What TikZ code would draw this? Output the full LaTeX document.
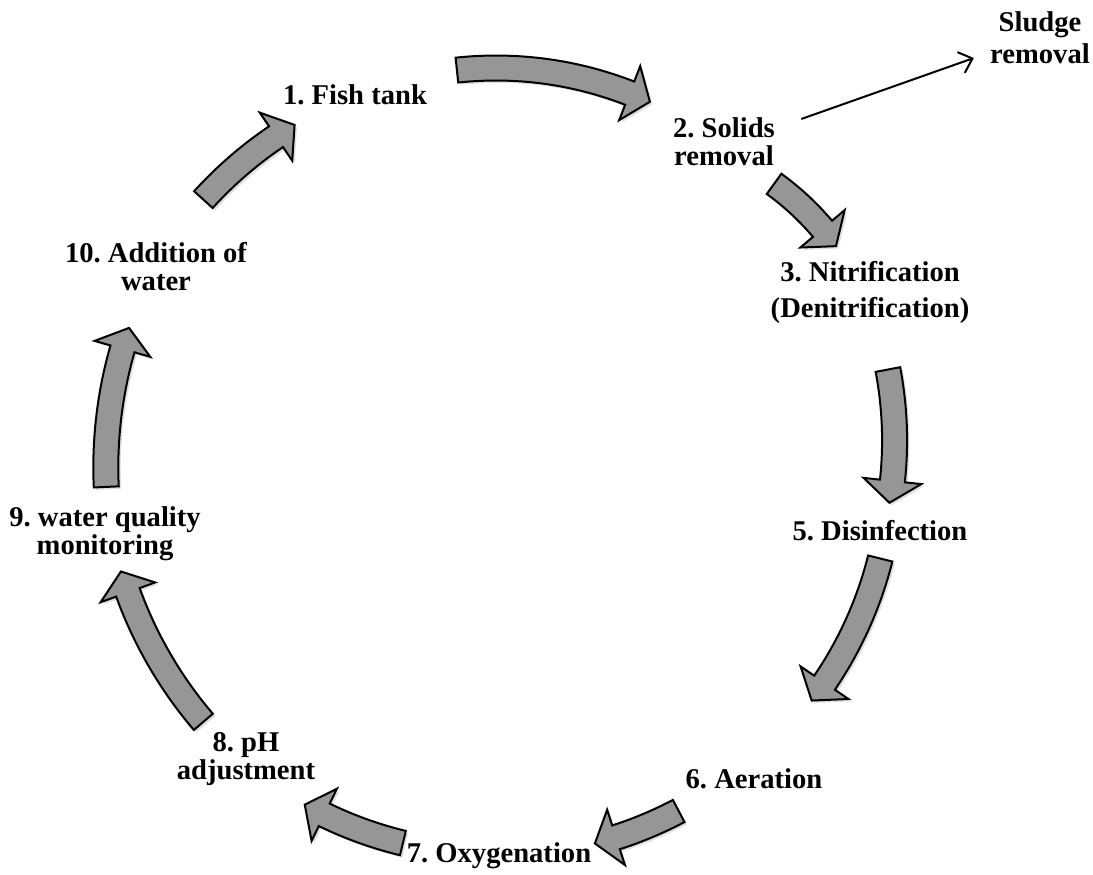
\documentclass[tikz,border=0pt]{standalone}
\usepackage{fontspec}
\setmainfont{Liberation Serif}
\frenchspacing
\definecolor{GrisFleche}{HTML}{969696}
\usetikzlibrary{arrows.meta}
\usetikzlibrary{shadows}
\usetikzlibrary{positioning}
\tikzset{
	etape/.style={font=\fontsize{14.3}{14}\selectfont\bfseries, align=center, inner sep=2pt},
	fleche/.style={draw=black, fill=GrisFleche, line width=1pt, line join=miter,
		drop shadow={shadow xshift=1.2pt, shadow yshift=-1.2pt, opacity=0.25}},
	sortie/.style={line width=1pt, arrows={-Straight Barb[length=6pt, width=11pt]}}
}
\begin{document}
\begin{tikzpicture}[x=0.5pt, y=-0.5pt]
    \useasboundingbox (0,0) rectangle (1093,874);
    % half widths of shaft and head
    \def\aw{12.5}
    \def\ah{29}
    % steps of the loop
    \node[etape] (fish) at (355,95) {1. Fish tank};
    \node[etape] (solids) at (724,142) {2. Solids\\removal};
    \node[etape] (sludge) at (1040,38) {Sludge\\[2pt]removal};
    \node[etape] (nitri) at (870,292) {3. Nitrification\\[4pt](Denitrification)};
    \node[etape] (disinf) at (880,531) {5. Disinfection};
    \node[etape] (aer) at (754,779) {6. Aeration};
    \node[etape] (oxy) at (499,856) {7. Oxygenation};
    \node[etape] (ph) at (246,759) {8. pH\\adjustment};
    \node[etape] (wqm) at (105,534) {9. water quality\\monitoring};
    \node[etape] (addw) at (156,267) {10. Addition of\\water};
    
    % curved block arrows: centre x/centre y/radius/tail angle/head angle
    \foreach \cx/\cy/\r/\ta/\tb in {496/436/368/-96.1/-68.7, 614/405/273/-54.1/-40.2,
        514.6/440.4/380/-10.75/6.13, 502/463.5/390/14.1/34.2, 496.8/466/390/62.2/72.2,
        494.6/464/390/103.6/115.9, 522.7/449.1/420/139.5/160.06, 535.8/467.4/430/177.4/196.0,
        499.7/468.3/400/222.2/236.0} {
        \pgfmathsetmacro\tc{\tb+22/\r*57.2958}
        \draw[fleche, shift={(\cx,\cy)}] plot[domain=\ta:\tb, samples=30] (\x:{\r+\aw})
            -- (\tb:{\r+\ah}) -- (\tc:\r) -- (\tb:{\r-\ah})
            -- plot[domain=\tb:\ta, samples=30] (\x:{\r-\aw}) -- cycle;
    }
    
    \draw[sortie] ([shift={(22,-23)}]solids.east) -- ([shift={(-12,20)}]sludge.west);
\end{tikzpicture}
\end{document}
